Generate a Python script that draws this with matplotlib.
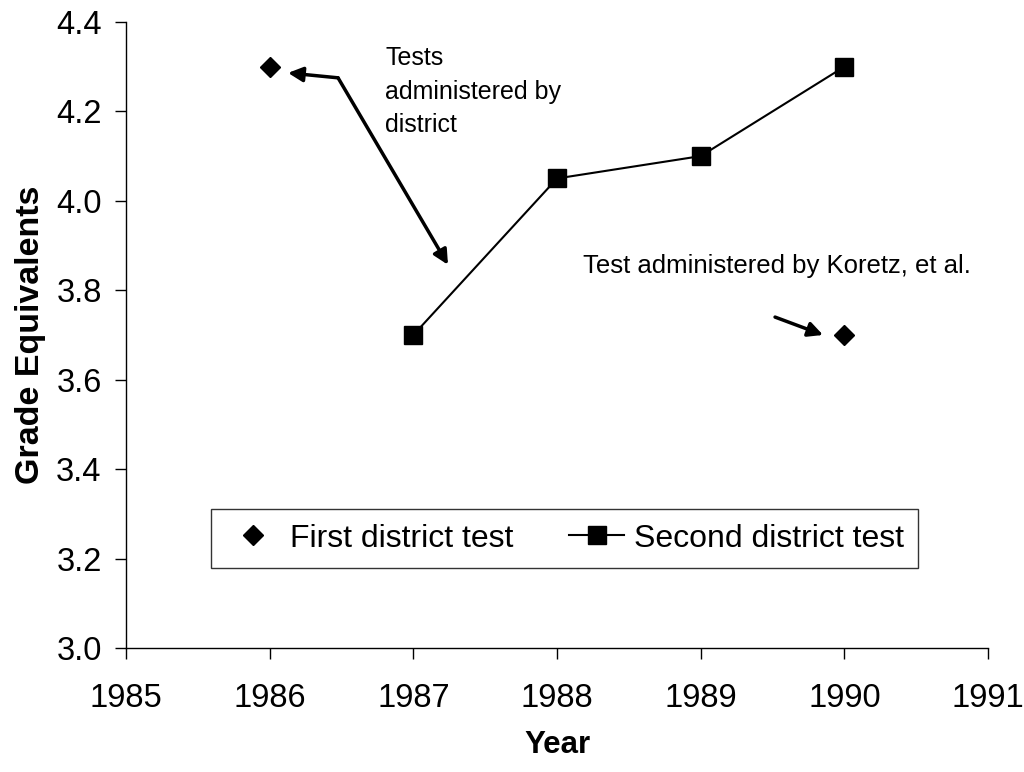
import matplotlib.pyplot as plt

plt.rcParams["font.family"] = ["Liberation Sans", "DejaVu Sans"]

# data
first_years = [1986, 1990]
first_values = [4.3, 3.7]
second_years = [1987, 1988, 1989, 1990]
second_values = [3.7, 4.05, 4.1, 4.3]
x_ticks = [1985, 1986, 1987, 1988, 1989, 1990, 1991]
y_ticks = [3.0, 3.2, 3.4, 3.6, 3.8, 4.0, 4.2, 4.4]

fig = plt.figure(figsize=(10.24, 7.72), dpi=100)
ax = fig.add_axes([0.123, 0.1606, 0.842, 0.811])

ax.plot(first_years, first_values, linestyle="none", marker="D", markersize=10,
        color="black", label="First district test")
ax.plot(second_years, second_values, color="black", linewidth=1.5, marker="s",
        markersize=13, label="Second district test")

ax.set_xlim(1985, 1991)
ax.set_ylim(3.0, 4.4)
ax.set_xticks(x_ticks)
ax.set_yticks(y_ticks)
ax.set_yticklabels([f"{v:.1f}" for v in y_ticks])
ax.tick_params(labelsize=23.5, length=8, width=1, direction="out", pad=9.5)
ax.tick_params(axis="x", pad=17)
for side in ["top", "right"]:
    ax.spines[side].set_visible(False)
for side in ["left", "bottom"]:
    ax.spines[side].set_linewidth(1)

ax.set_xlabel("Year", fontsize=22.5, fontweight="bold", labelpad=12)
ax.set_ylabel("Grade Equivalents", fontsize=24.5, fontweight="bold", labelpad=7)

# annotations
ax.text(1986.805, 4.346, "Tests\nadministered by\ndistrict", fontsize=18,
        va="top", ha="left", linespacing=1.5)
kink = (1986.476, 4.275)
arrow_style = dict(arrowstyle="-|>", mutation_scale=22, lw=2.5, color="black",
                   shrinkA=0, shrinkB=0)
ax.annotate("", xy=(1986.128, 4.286), xytext=kink, arrowprops=arrow_style)
ax.annotate("", xy=(1987.241, 3.857), xytext=kink, arrowprops=arrow_style)

ax.text(1988.18, 3.855, "Test administered by Koretz, et al.", fontsize=18.5,
        va="center", ha="left")
ax.annotate("", xy=(1989.851, 3.700), xytext=(1989.517, 3.740), arrowprops=arrow_style)

leg = ax.legend(loc="lower left", bbox_to_anchor=(0.0986, 0.1278, 0.8204, 0.0926),
                mode="expand", ncol=2, fontsize=23, frameon=True, fancybox=False,
                edgecolor="black", handlelength=1.72, handletextpad=0.3,
                borderaxespad=0, borderpad=0.45, columnspacing=1.3)
leg.get_frame().set_linewidth(1)

fig.savefig("out.png", dpi=100)
